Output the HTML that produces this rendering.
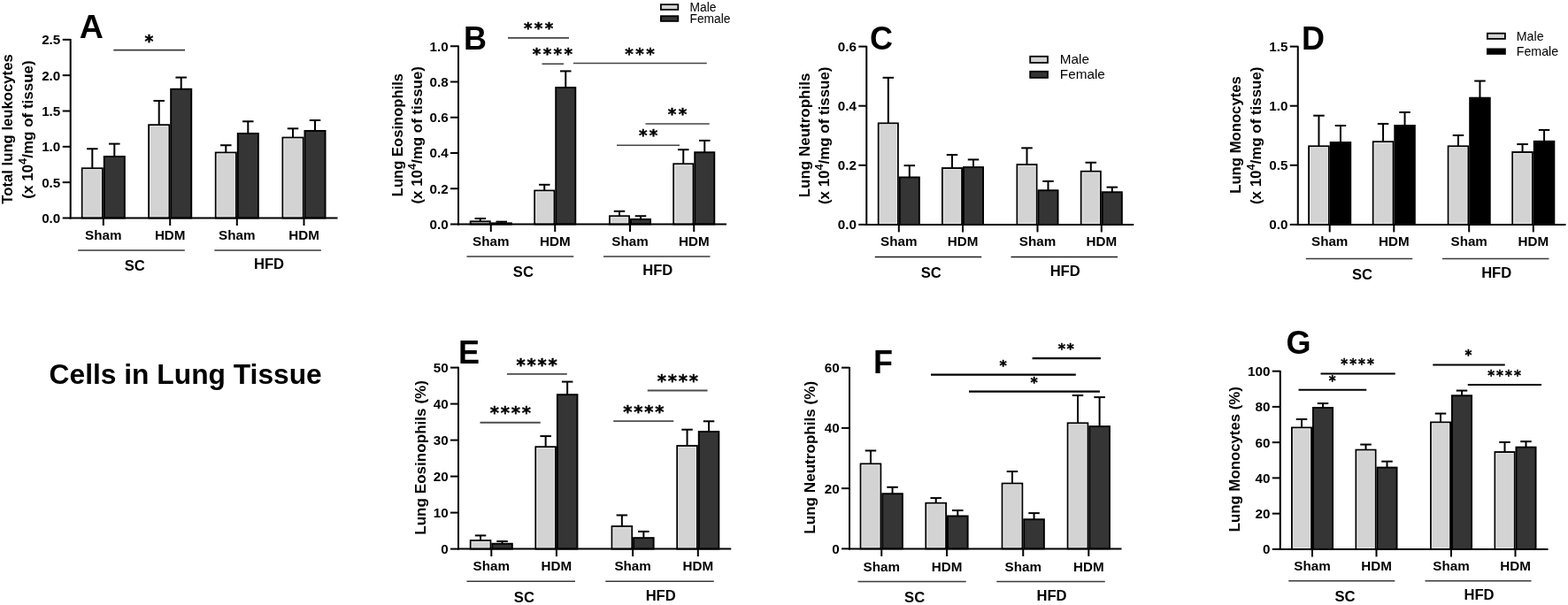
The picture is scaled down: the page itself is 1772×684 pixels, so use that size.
<!DOCTYPE html>
<html><head><meta charset="utf-8"><title>Cells in Lung Tissue</title>
<style>html,body{margin:0;padding:0;background:#fff;}svg{display:block;}text{font-family:"Liberation Sans", Arial, sans-serif;fill:#000;}</style>
</head><body>
<svg width="1772" height="684" viewBox="0 0 1772 684">
<line x1="104.30" y1="190.03" x2="104.30" y2="168.25" stroke="#000" stroke-width="2"/>
<line x1="98.05" y1="168.25" x2="110.55" y2="168.25" stroke="#000" stroke-width="2"/>
<rect x="92.75" y="190.28" width="23.10" height="56.22" fill="#d3d3d3" stroke="#000" stroke-width="1.9"/>
<rect x="94.20" y="191.73" width="20.20" height="53.27" fill="none" stroke="#e4e4e4" stroke-width="1"/>
<line x1="129.30" y1="176.72" x2="129.30" y2="162.60" stroke="#000" stroke-width="2"/>
<line x1="123.05" y1="162.60" x2="135.55" y2="162.60" stroke="#000" stroke-width="2"/>
<rect x="117.75" y="176.97" width="23.10" height="69.53" fill="#353535" stroke="#000" stroke-width="1.9"/>
<line x1="179.70" y1="140.98" x2="179.70" y2="113.96" stroke="#000" stroke-width="2"/>
<line x1="173.45" y1="113.96" x2="185.95" y2="113.96" stroke="#000" stroke-width="2"/>
<rect x="168.15" y="141.23" width="23.10" height="105.27" fill="#d3d3d3" stroke="#000" stroke-width="1.9"/>
<rect x="169.60" y="142.68" width="20.20" height="102.32" fill="none" stroke="#e4e4e4" stroke-width="1"/>
<line x1="204.70" y1="100.49" x2="204.70" y2="87.58" stroke="#000" stroke-width="2"/>
<line x1="198.45" y1="87.58" x2="210.95" y2="87.58" stroke="#000" stroke-width="2"/>
<rect x="193.15" y="100.74" width="23.10" height="145.76" fill="#353535" stroke="#000" stroke-width="1.9"/>
<line x1="255.30" y1="172.28" x2="255.30" y2="164.22" stroke="#000" stroke-width="2"/>
<line x1="249.05" y1="164.22" x2="261.55" y2="164.22" stroke="#000" stroke-width="2"/>
<rect x="243.75" y="172.53" width="23.10" height="73.97" fill="#d3d3d3" stroke="#000" stroke-width="1.9"/>
<rect x="245.20" y="173.98" width="20.20" height="71.02" fill="none" stroke="#e4e4e4" stroke-width="1"/>
<line x1="280.30" y1="150.66" x2="280.30" y2="137.27" stroke="#000" stroke-width="2"/>
<line x1="274.05" y1="137.27" x2="286.55" y2="137.27" stroke="#000" stroke-width="2"/>
<rect x="268.75" y="150.91" width="23.10" height="95.59" fill="#353535" stroke="#000" stroke-width="1.9"/>
<line x1="331.00" y1="155.34" x2="331.00" y2="145.34" stroke="#000" stroke-width="2"/>
<line x1="324.75" y1="145.34" x2="337.25" y2="145.34" stroke="#000" stroke-width="2"/>
<rect x="319.45" y="155.59" width="23.10" height="90.91" fill="#d3d3d3" stroke="#000" stroke-width="1.9"/>
<rect x="320.90" y="157.04" width="20.20" height="87.96" fill="none" stroke="#e4e4e4" stroke-width="1"/>
<line x1="356.00" y1="147.68" x2="356.00" y2="135.98" stroke="#000" stroke-width="2"/>
<line x1="349.75" y1="135.98" x2="362.25" y2="135.98" stroke="#000" stroke-width="2"/>
<rect x="344.45" y="147.93" width="23.10" height="98.57" fill="#353535" stroke="#000" stroke-width="1.9"/>
<line x1="79.70" y1="44.07" x2="79.70" y2="247.50" stroke="#000" stroke-width="2"/>
<line x1="78.70" y1="246.50" x2="381.50" y2="246.50" stroke="#000" stroke-width="2"/>
<line x1="70.70" y1="246.50" x2="79.70" y2="246.50" stroke="#000" stroke-width="2"/>
<text x="68.30" y="251.90" font-size="15.2" text-anchor="end" font-weight="bold">0.0</text>
<line x1="70.70" y1="206.16" x2="79.70" y2="206.16" stroke="#000" stroke-width="2"/>
<text x="68.30" y="211.56" font-size="15.2" text-anchor="end" font-weight="bold">0.5</text>
<line x1="70.70" y1="165.83" x2="79.70" y2="165.83" stroke="#000" stroke-width="2"/>
<text x="68.30" y="171.23" font-size="15.2" text-anchor="end" font-weight="bold">1.0</text>
<line x1="70.70" y1="125.50" x2="79.70" y2="125.50" stroke="#000" stroke-width="2"/>
<text x="68.30" y="130.90" font-size="15.2" text-anchor="end" font-weight="bold">1.5</text>
<line x1="70.70" y1="85.16" x2="79.70" y2="85.16" stroke="#000" stroke-width="2"/>
<text x="68.30" y="90.56" font-size="15.2" text-anchor="end" font-weight="bold">2.0</text>
<line x1="70.70" y1="44.82" x2="79.70" y2="44.82" stroke="#000" stroke-width="2"/>
<text x="68.30" y="50.22" font-size="15.2" text-anchor="end" font-weight="bold">2.5</text>
<line x1="116.80" y1="246.50" x2="116.80" y2="255.00" stroke="#000" stroke-width="2"/>
<line x1="192.20" y1="246.50" x2="192.20" y2="255.00" stroke="#000" stroke-width="2"/>
<line x1="267.80" y1="246.50" x2="267.80" y2="255.00" stroke="#000" stroke-width="2"/>
<line x1="343.50" y1="246.50" x2="343.50" y2="255.00" stroke="#000" stroke-width="2"/>
<text x="116.80" y="271.30" font-size="15.2" text-anchor="middle" font-weight="bold">Sham</text>
<text x="192.20" y="271.30" font-size="15.2" text-anchor="middle" font-weight="bold">HDM</text>
<text x="267.80" y="271.30" font-size="15.2" text-anchor="middle" font-weight="bold">Sham</text>
<text x="343.50" y="271.30" font-size="15.2" text-anchor="middle" font-weight="bold">HDM</text>
<line x1="88.20" y1="283.00" x2="208.80" y2="283.00" stroke="#3a3a3a" stroke-width="1.6"/>
<line x1="242.30" y1="283.00" x2="362.90" y2="283.00" stroke="#3a3a3a" stroke-width="1.6"/>
<text x="152.20" y="305.60" font-size="16.6" text-anchor="middle" font-weight="bold">SC</text>
<text x="304.00" y="304.00" font-size="16.6" text-anchor="middle" font-weight="bold">HFD</text>
<line x1="128.30" y1="56.70" x2="209.00" y2="56.70" stroke="#3a3a3a" stroke-width="1.8"/>
<text x="169.50" y="52.55" font-size="18.9" text-anchor="middle" font-weight="bold" stroke="#000" stroke-width="0.45" style="font-family:'DejaVu Sans',sans-serif;letter-spacing:2px">*</text>
<text x="103.30" y="42.90" font-size="37.5" text-anchor="middle" font-weight="bold">A</text>
<text transform="translate(14.30,146.00) rotate(-90)" font-size="16.7" text-anchor="middle" font-weight="bold">Total lung leukocytes</text>
<text transform="translate(36.50,146.50) rotate(-90)" font-size="17.0" text-anchor="middle" font-weight="bold">(x 10<tspan dy="-6.3" font-size="12.8">4</tspan><tspan dy="6.3">/mg of tissue)</tspan></text>
<line x1="542.75" y1="250.08" x2="542.75" y2="247.06" stroke="#000" stroke-width="2"/>
<line x1="536.50" y1="247.06" x2="549.00" y2="247.06" stroke="#000" stroke-width="2"/>
<rect x="531.70" y="250.33" width="22.10" height="3.17" fill="#d3d3d3" stroke="#000" stroke-width="1.9"/>
<line x1="566.75" y1="252.09" x2="566.75" y2="250.68" stroke="#000" stroke-width="2"/>
<line x1="560.50" y1="250.68" x2="573.00" y2="250.68" stroke="#000" stroke-width="2"/>
<rect x="555.70" y="252.34" width="22.10" height="1.16" fill="#353535" stroke="#000" stroke-width="1.9"/>
<line x1="615.25" y1="215.26" x2="615.25" y2="208.82" stroke="#000" stroke-width="2"/>
<line x1="609.00" y1="208.82" x2="621.50" y2="208.82" stroke="#000" stroke-width="2"/>
<rect x="604.20" y="215.51" width="22.10" height="37.99" fill="#d3d3d3" stroke="#000" stroke-width="1.9"/>
<rect x="605.65" y="216.96" width="19.20" height="35.04" fill="none" stroke="#e4e4e4" stroke-width="1"/>
<line x1="639.25" y1="98.74" x2="639.25" y2="80.43" stroke="#000" stroke-width="2"/>
<line x1="633.00" y1="80.43" x2="645.50" y2="80.43" stroke="#000" stroke-width="2"/>
<rect x="628.20" y="98.99" width="22.10" height="154.51" fill="#353535" stroke="#000" stroke-width="1.9"/>
<line x1="700.00" y1="244.04" x2="700.00" y2="238.81" stroke="#000" stroke-width="2"/>
<line x1="693.75" y1="238.81" x2="706.25" y2="238.81" stroke="#000" stroke-width="2"/>
<rect x="688.95" y="244.29" width="22.10" height="9.21" fill="#d3d3d3" stroke="#000" stroke-width="1.9"/>
<rect x="690.40" y="245.74" width="19.20" height="6.26" fill="none" stroke="#e4e4e4" stroke-width="1"/>
<line x1="724.00" y1="247.66" x2="724.00" y2="244.24" stroke="#000" stroke-width="2"/>
<line x1="717.75" y1="244.24" x2="730.25" y2="244.24" stroke="#000" stroke-width="2"/>
<rect x="712.95" y="247.91" width="22.10" height="5.59" fill="#353535" stroke="#000" stroke-width="1.9"/>
<line x1="772.25" y1="185.07" x2="772.25" y2="169.18" stroke="#000" stroke-width="2"/>
<line x1="766.00" y1="169.18" x2="778.50" y2="169.18" stroke="#000" stroke-width="2"/>
<rect x="761.20" y="185.32" width="22.10" height="68.17" fill="#d3d3d3" stroke="#000" stroke-width="1.9"/>
<rect x="762.65" y="186.78" width="19.20" height="65.22" fill="none" stroke="#e4e4e4" stroke-width="1"/>
<line x1="796.25" y1="171.99" x2="796.25" y2="158.91" stroke="#000" stroke-width="2"/>
<line x1="790.00" y1="158.91" x2="802.50" y2="158.91" stroke="#000" stroke-width="2"/>
<rect x="785.20" y="172.24" width="22.10" height="81.26" fill="#353535" stroke="#000" stroke-width="1.9"/>
<line x1="518.00" y1="51.50" x2="518.00" y2="254.50" stroke="#000" stroke-width="2"/>
<line x1="517.00" y1="253.50" x2="821.00" y2="253.50" stroke="#000" stroke-width="2"/>
<line x1="509.00" y1="253.50" x2="518.00" y2="253.50" stroke="#000" stroke-width="2"/>
<text x="506.60" y="258.90" font-size="15.2" text-anchor="end" font-weight="bold">0.0</text>
<line x1="509.00" y1="213.25" x2="518.00" y2="213.25" stroke="#000" stroke-width="2"/>
<text x="506.60" y="218.65" font-size="15.2" text-anchor="end" font-weight="bold">0.2</text>
<line x1="509.00" y1="173.00" x2="518.00" y2="173.00" stroke="#000" stroke-width="2"/>
<text x="506.60" y="178.40" font-size="15.2" text-anchor="end" font-weight="bold">0.4</text>
<line x1="509.00" y1="132.75" x2="518.00" y2="132.75" stroke="#000" stroke-width="2"/>
<text x="506.60" y="138.15" font-size="15.2" text-anchor="end" font-weight="bold">0.6</text>
<line x1="509.00" y1="92.50" x2="518.00" y2="92.50" stroke="#000" stroke-width="2"/>
<text x="506.60" y="97.90" font-size="15.2" text-anchor="end" font-weight="bold">0.8</text>
<line x1="509.00" y1="52.25" x2="518.00" y2="52.25" stroke="#000" stroke-width="2"/>
<text x="506.60" y="57.65" font-size="15.2" text-anchor="end" font-weight="bold">1.0</text>
<line x1="554.75" y1="253.50" x2="554.75" y2="262.00" stroke="#000" stroke-width="2"/>
<line x1="627.25" y1="253.50" x2="627.25" y2="262.00" stroke="#000" stroke-width="2"/>
<line x1="712.00" y1="253.50" x2="712.00" y2="262.00" stroke="#000" stroke-width="2"/>
<line x1="784.25" y1="253.50" x2="784.25" y2="262.00" stroke="#000" stroke-width="2"/>
<text x="554.75" y="278.00" font-size="15.2" text-anchor="middle" font-weight="bold">Sham</text>
<text x="627.25" y="278.00" font-size="15.2" text-anchor="middle" font-weight="bold">HDM</text>
<text x="712.00" y="278.00" font-size="15.2" text-anchor="middle" font-weight="bold">Sham</text>
<text x="784.25" y="278.00" font-size="15.2" text-anchor="middle" font-weight="bold">HDM</text>
<line x1="527.50" y1="290.00" x2="648.25" y2="290.00" stroke="#3a3a3a" stroke-width="1.6"/>
<line x1="682.00" y1="290.00" x2="802.50" y2="290.00" stroke="#3a3a3a" stroke-width="1.6"/>
<text x="591.35" y="313.00" font-size="16.6" text-anchor="middle" font-weight="bold">SC</text>
<text x="743.25" y="311.10" font-size="16.6" text-anchor="middle" font-weight="bold">HFD</text>
<line x1="574.00" y1="42.90" x2="643.00" y2="42.90" stroke="#444" stroke-width="1.6"/>
<text x="609.75" y="37.99" font-size="18.2" text-anchor="middle" font-weight="bold" stroke="#000" stroke-width="0.45" style="font-family:'DejaVu Sans',sans-serif;letter-spacing:2.4px">***</text>
<line x1="612.50" y1="72.25" x2="637.00" y2="72.25" stroke="#444" stroke-width="1.6"/>
<text x="625.60" y="67.34" font-size="18.2" text-anchor="middle" font-weight="bold" stroke="#000" stroke-width="0.45" style="font-family:'DejaVu Sans',sans-serif;letter-spacing:2.4px">****</text>
<line x1="648.00" y1="71.50" x2="798.75" y2="71.50" stroke="#444" stroke-width="1.6"/>
<text x="724.20" y="66.59" font-size="18.2" text-anchor="middle" font-weight="bold" stroke="#000" stroke-width="0.45" style="font-family:'DejaVu Sans',sans-serif;letter-spacing:2.4px">***</text>
<line x1="729.50" y1="140.00" x2="801.75" y2="140.00" stroke="#444" stroke-width="1.6"/>
<text x="766.70" y="135.09" font-size="18.2" text-anchor="middle" font-weight="bold" stroke="#000" stroke-width="0.45" style="font-family:'DejaVu Sans',sans-serif;letter-spacing:2.4px">**</text>
<line x1="697.00" y1="164.20" x2="768.00" y2="164.20" stroke="#444" stroke-width="1.6"/>
<text x="733.85" y="159.29" font-size="18.2" text-anchor="middle" font-weight="bold" stroke="#000" stroke-width="0.45" style="font-family:'DejaVu Sans',sans-serif;letter-spacing:2.4px">**</text>
<text x="537.00" y="55.50" font-size="36" text-anchor="middle" font-weight="bold">B</text>
<text transform="translate(454.80,152.60) rotate(-90)" font-size="16.6" text-anchor="middle" font-weight="bold">Lung Eosinophils</text>
<text transform="translate(476.50,152.80) rotate(-90)" font-size="16.9" text-anchor="middle" font-weight="bold">(x 10<tspan dy="-6.3" font-size="12.8">4</tspan><tspan dy="6.3">/mg of tissue)</tspan></text>
<rect x="746.90" y="5.10" width="19.40" height="5.80" fill="#d3d3d3" stroke="#000" stroke-width="1.8"/>
<rect x="746.90" y="18.20" width="19.40" height="5.70" fill="#353535" stroke="#000" stroke-width="1.8"/>
<text x="779.50" y="12.80" font-size="13.8" text-anchor="start" font-weight="normal">Male</text>
<text x="779.50" y="25.50" font-size="13.8" text-anchor="start" font-weight="normal">Female</text>
<line x1="1003.80" y1="139.16" x2="1003.80" y2="87.83" stroke="#000" stroke-width="2"/>
<line x1="997.55" y1="87.83" x2="1010.05" y2="87.83" stroke="#000" stroke-width="2"/>
<rect x="992.75" y="139.41" width="22.10" height="114.49" fill="#d3d3d3" stroke="#000" stroke-width="1.9"/>
<rect x="994.20" y="140.86" width="19.20" height="111.54" fill="none" stroke="#e4e4e4" stroke-width="1"/>
<line x1="1027.80" y1="200.22" x2="1027.80" y2="187.14" stroke="#000" stroke-width="2"/>
<line x1="1021.55" y1="187.14" x2="1034.05" y2="187.14" stroke="#000" stroke-width="2"/>
<rect x="1016.75" y="200.47" width="22.10" height="53.43" fill="#353535" stroke="#000" stroke-width="1.9"/>
<line x1="1076.00" y1="189.82" x2="1076.00" y2="175.06" stroke="#000" stroke-width="2"/>
<line x1="1069.75" y1="175.06" x2="1082.25" y2="175.06" stroke="#000" stroke-width="2"/>
<rect x="1064.95" y="190.07" width="22.10" height="63.83" fill="#d3d3d3" stroke="#000" stroke-width="1.9"/>
<rect x="1066.40" y="191.52" width="19.20" height="60.88" fill="none" stroke="#e4e4e4" stroke-width="1"/>
<line x1="1100.00" y1="188.81" x2="1100.00" y2="180.43" stroke="#000" stroke-width="2"/>
<line x1="1093.75" y1="180.43" x2="1106.25" y2="180.43" stroke="#000" stroke-width="2"/>
<rect x="1088.95" y="189.06" width="22.10" height="64.84" fill="#353535" stroke="#000" stroke-width="1.9"/>
<line x1="1160.50" y1="185.79" x2="1160.50" y2="167.34" stroke="#000" stroke-width="2"/>
<line x1="1154.25" y1="167.34" x2="1166.75" y2="167.34" stroke="#000" stroke-width="2"/>
<rect x="1149.45" y="186.04" width="22.10" height="67.86" fill="#d3d3d3" stroke="#000" stroke-width="1.9"/>
<rect x="1150.90" y="187.49" width="19.20" height="64.91" fill="none" stroke="#e4e4e4" stroke-width="1"/>
<line x1="1184.50" y1="214.98" x2="1184.50" y2="204.92" stroke="#000" stroke-width="2"/>
<line x1="1178.25" y1="204.92" x2="1190.75" y2="204.92" stroke="#000" stroke-width="2"/>
<rect x="1173.45" y="215.23" width="22.10" height="38.67" fill="#353535" stroke="#000" stroke-width="1.9"/>
<line x1="1232.80" y1="193.51" x2="1232.80" y2="183.78" stroke="#000" stroke-width="2"/>
<line x1="1226.55" y1="183.78" x2="1239.05" y2="183.78" stroke="#000" stroke-width="2"/>
<rect x="1221.75" y="193.76" width="22.10" height="60.14" fill="#d3d3d3" stroke="#000" stroke-width="1.9"/>
<rect x="1223.20" y="195.21" width="19.20" height="57.19" fill="none" stroke="#e4e4e4" stroke-width="1"/>
<line x1="1256.80" y1="217.00" x2="1256.80" y2="211.63" stroke="#000" stroke-width="2"/>
<line x1="1250.55" y1="211.63" x2="1263.05" y2="211.63" stroke="#000" stroke-width="2"/>
<rect x="1245.75" y="217.25" width="22.10" height="36.65" fill="#353535" stroke="#000" stroke-width="1.9"/>
<line x1="979.25" y1="51.85" x2="979.25" y2="254.90" stroke="#000" stroke-width="2"/>
<line x1="978.25" y1="253.90" x2="1281.25" y2="253.90" stroke="#000" stroke-width="2"/>
<line x1="970.25" y1="253.90" x2="979.25" y2="253.90" stroke="#000" stroke-width="2"/>
<text x="967.85" y="259.30" font-size="15.2" text-anchor="end" font-weight="bold">0.0</text>
<line x1="970.25" y1="186.80" x2="979.25" y2="186.80" stroke="#000" stroke-width="2"/>
<text x="967.85" y="192.20" font-size="15.2" text-anchor="end" font-weight="bold">0.2</text>
<line x1="970.25" y1="119.70" x2="979.25" y2="119.70" stroke="#000" stroke-width="2"/>
<text x="967.85" y="125.10" font-size="15.2" text-anchor="end" font-weight="bold">0.4</text>
<line x1="970.25" y1="52.60" x2="979.25" y2="52.60" stroke="#000" stroke-width="2"/>
<text x="967.85" y="58.00" font-size="15.2" text-anchor="end" font-weight="bold">0.6</text>
<line x1="1015.80" y1="253.90" x2="1015.80" y2="262.40" stroke="#000" stroke-width="2"/>
<line x1="1088.00" y1="253.90" x2="1088.00" y2="262.40" stroke="#000" stroke-width="2"/>
<line x1="1172.50" y1="253.90" x2="1172.50" y2="262.40" stroke="#000" stroke-width="2"/>
<line x1="1244.80" y1="253.90" x2="1244.80" y2="262.40" stroke="#000" stroke-width="2"/>
<text x="1015.80" y="278.00" font-size="15.2" text-anchor="middle" font-weight="bold">Sham</text>
<text x="1088.00" y="278.00" font-size="15.2" text-anchor="middle" font-weight="bold">HDM</text>
<text x="1172.50" y="278.00" font-size="15.2" text-anchor="middle" font-weight="bold">Sham</text>
<text x="1244.80" y="278.00" font-size="15.2" text-anchor="middle" font-weight="bold">HDM</text>
<line x1="988.75" y1="290.50" x2="1109.25" y2="290.50" stroke="#1e1e1e" stroke-width="1.7"/>
<line x1="1142.50" y1="290.50" x2="1263.00" y2="290.50" stroke="#1e1e1e" stroke-width="1.7"/>
<text x="1052.20" y="313.50" font-size="16.6" text-anchor="middle" font-weight="bold">SC</text>
<text x="1203.70" y="311.60" font-size="16.6" text-anchor="middle" font-weight="bold">HFD</text>
<text x="996.00" y="56.25" font-size="36" text-anchor="middle" font-weight="bold">C</text>
<text transform="translate(914.80,153.00) rotate(-90)" font-size="17.0" text-anchor="middle" font-weight="bold">Lung Neutrophils</text>
<text transform="translate(936.50,153.30) rotate(-90)" font-size="16.9" text-anchor="middle" font-weight="bold">(x 10<tspan dy="-6.3" font-size="12.8">4</tspan><tspan dy="6.3">/mg of tissue)</tspan></text>
<rect x="1164.20" y="63.80" width="19.80" height="7.10" fill="#d3d3d3" stroke="#000" stroke-width="1.8"/>
<rect x="1164.20" y="80.80" width="19.80" height="7.10" fill="#353535" stroke="#000" stroke-width="1.8"/>
<text x="1197.80" y="72.20" font-size="15.3" text-anchor="start" font-weight="normal">Male</text>
<text x="1197.80" y="89.30" font-size="15.3" text-anchor="start" font-weight="normal">Female</text>
<line x1="1490.45" y1="165.06" x2="1490.45" y2="130.70" stroke="#000" stroke-width="2"/>
<line x1="1484.20" y1="130.70" x2="1496.70" y2="130.70" stroke="#000" stroke-width="2"/>
<rect x="1479.15" y="165.31" width="22.60" height="88.59" fill="#d3d3d3" stroke="#000" stroke-width="1.9"/>
<rect x="1480.60" y="166.76" width="19.70" height="85.64" fill="none" stroke="#e4e4e4" stroke-width="1"/>
<line x1="1514.95" y1="160.77" x2="1514.95" y2="141.98" stroke="#000" stroke-width="2"/>
<line x1="1508.70" y1="141.98" x2="1521.20" y2="141.98" stroke="#000" stroke-width="2"/>
<rect x="1503.65" y="161.02" width="22.60" height="92.88" fill="#000" stroke="#000" stroke-width="1.9"/>
<line x1="1563.05" y1="159.96" x2="1563.05" y2="139.96" stroke="#000" stroke-width="2"/>
<line x1="1556.80" y1="139.96" x2="1569.30" y2="139.96" stroke="#000" stroke-width="2"/>
<rect x="1551.75" y="160.21" width="22.60" height="93.69" fill="#d3d3d3" stroke="#000" stroke-width="1.9"/>
<rect x="1553.20" y="161.66" width="19.70" height="90.74" fill="none" stroke="#e4e4e4" stroke-width="1"/>
<line x1="1587.55" y1="141.71" x2="1587.55" y2="126.95" stroke="#000" stroke-width="2"/>
<line x1="1581.30" y1="126.95" x2="1593.80" y2="126.95" stroke="#000" stroke-width="2"/>
<rect x="1576.25" y="141.96" width="22.60" height="111.94" fill="#000" stroke="#000" stroke-width="1.9"/>
<line x1="1647.95" y1="165.06" x2="1647.95" y2="152.98" stroke="#000" stroke-width="2"/>
<line x1="1641.70" y1="152.98" x2="1654.20" y2="152.98" stroke="#000" stroke-width="2"/>
<rect x="1636.65" y="165.31" width="22.60" height="88.59" fill="#d3d3d3" stroke="#000" stroke-width="1.9"/>
<rect x="1638.10" y="166.76" width="19.70" height="85.64" fill="none" stroke="#e4e4e4" stroke-width="1"/>
<line x1="1672.45" y1="110.44" x2="1672.45" y2="91.52" stroke="#000" stroke-width="2"/>
<line x1="1666.20" y1="91.52" x2="1678.70" y2="91.52" stroke="#000" stroke-width="2"/>
<rect x="1661.15" y="110.69" width="22.60" height="143.21" fill="#000" stroke="#000" stroke-width="1.9"/>
<line x1="1720.55" y1="171.77" x2="1720.55" y2="163.05" stroke="#000" stroke-width="2"/>
<line x1="1714.30" y1="163.05" x2="1726.80" y2="163.05" stroke="#000" stroke-width="2"/>
<rect x="1709.25" y="172.02" width="22.60" height="81.88" fill="#d3d3d3" stroke="#000" stroke-width="1.9"/>
<rect x="1710.70" y="173.47" width="19.70" height="78.93" fill="none" stroke="#e4e4e4" stroke-width="1"/>
<line x1="1745.05" y1="159.56" x2="1745.05" y2="146.94" stroke="#000" stroke-width="2"/>
<line x1="1738.80" y1="146.94" x2="1751.30" y2="146.94" stroke="#000" stroke-width="2"/>
<rect x="1733.75" y="159.81" width="22.60" height="94.09" fill="#000" stroke="#000" stroke-width="1.9"/>
<line x1="1466.75" y1="51.85" x2="1466.75" y2="254.90" stroke="#000" stroke-width="2"/>
<line x1="1465.75" y1="253.90" x2="1769.50" y2="253.90" stroke="#000" stroke-width="2"/>
<line x1="1457.75" y1="253.90" x2="1466.75" y2="253.90" stroke="#000" stroke-width="2"/>
<text x="1455.35" y="259.30" font-size="15.2" text-anchor="end" font-weight="bold">0.0</text>
<line x1="1457.75" y1="186.80" x2="1466.75" y2="186.80" stroke="#000" stroke-width="2"/>
<text x="1455.35" y="192.20" font-size="15.2" text-anchor="end" font-weight="bold">0.5</text>
<line x1="1457.75" y1="119.70" x2="1466.75" y2="119.70" stroke="#000" stroke-width="2"/>
<text x="1455.35" y="125.10" font-size="15.2" text-anchor="end" font-weight="bold">1.0</text>
<line x1="1457.75" y1="52.60" x2="1466.75" y2="52.60" stroke="#000" stroke-width="2"/>
<text x="1455.35" y="58.00" font-size="15.2" text-anchor="end" font-weight="bold">1.5</text>
<line x1="1502.70" y1="253.90" x2="1502.70" y2="262.40" stroke="#000" stroke-width="2"/>
<line x1="1575.30" y1="253.90" x2="1575.30" y2="262.40" stroke="#000" stroke-width="2"/>
<line x1="1660.20" y1="253.90" x2="1660.20" y2="262.40" stroke="#000" stroke-width="2"/>
<line x1="1732.80" y1="253.90" x2="1732.80" y2="262.40" stroke="#000" stroke-width="2"/>
<text x="1502.70" y="278.00" font-size="15.2" text-anchor="middle" font-weight="bold">Sham</text>
<text x="1575.30" y="278.00" font-size="15.2" text-anchor="middle" font-weight="bold">HDM</text>
<text x="1660.20" y="278.00" font-size="15.2" text-anchor="middle" font-weight="bold">Sham</text>
<text x="1732.80" y="278.00" font-size="15.2" text-anchor="middle" font-weight="bold">HDM</text>
<line x1="1475.75" y1="292.50" x2="1596.25" y2="292.50" stroke="#3a3a3a" stroke-width="1.6"/>
<line x1="1630.00" y1="292.50" x2="1750.50" y2="292.50" stroke="#3a3a3a" stroke-width="1.6"/>
<text x="1539.50" y="315.50" font-size="16.6" text-anchor="middle" font-weight="bold">SC</text>
<text x="1691.20" y="313.50" font-size="16.6" text-anchor="middle" font-weight="bold">HFD</text>
<text x="1484.00" y="56.00" font-size="36" text-anchor="middle" font-weight="bold">D</text>
<text transform="translate(1402.00,152.50) rotate(-90)" font-size="16.7" text-anchor="middle" font-weight="bold">Lung Monocytes</text>
<text transform="translate(1424.50,153.30) rotate(-90)" font-size="16.9" text-anchor="middle" font-weight="bold">(x 10<tspan dy="-6.3" font-size="12.8">4</tspan><tspan dy="6.3">/mg of tissue)</tspan></text>
<rect x="1680.90" y="37.70" width="20.00" height="6.20" fill="#d3d3d3" stroke="#000" stroke-width="1.8"/>
<rect x="1680.90" y="55.40" width="20.00" height="5.50" fill="#000" stroke="#000" stroke-width="1.8"/>
<text x="1713.80" y="45.50" font-size="14.2" text-anchor="start" font-weight="normal">Male</text>
<text x="1713.80" y="62.90" font-size="14.2" text-anchor="start" font-weight="normal">Female</text>
<line x1="543.05" y1="610.76" x2="543.05" y2="605.43" stroke="#000" stroke-width="2"/>
<line x1="536.80" y1="605.43" x2="549.30" y2="605.43" stroke="#000" stroke-width="2"/>
<rect x="531.75" y="611.01" width="22.60" height="9.59" fill="#d3d3d3" stroke="#000" stroke-width="1.9"/>
<rect x="533.20" y="612.46" width="19.70" height="6.64" fill="none" stroke="#e4e4e4" stroke-width="1"/>
<line x1="567.55" y1="614.45" x2="567.55" y2="611.99" stroke="#000" stroke-width="2"/>
<line x1="561.30" y1="611.99" x2="573.80" y2="611.99" stroke="#000" stroke-width="2"/>
<rect x="556.25" y="614.70" width="22.60" height="5.90" fill="#353535" stroke="#000" stroke-width="1.9"/>
<line x1="616.65" y1="504.98" x2="616.65" y2="493.09" stroke="#000" stroke-width="2"/>
<line x1="610.40" y1="493.09" x2="622.90" y2="493.09" stroke="#000" stroke-width="2"/>
<rect x="605.35" y="505.23" width="22.60" height="115.37" fill="#d3d3d3" stroke="#000" stroke-width="1.9"/>
<rect x="606.80" y="506.68" width="19.70" height="112.42" fill="none" stroke="#e4e4e4" stroke-width="1"/>
<line x1="641.15" y1="445.94" x2="641.15" y2="431.59" stroke="#000" stroke-width="2"/>
<line x1="634.90" y1="431.59" x2="647.40" y2="431.59" stroke="#000" stroke-width="2"/>
<rect x="629.85" y="446.19" width="22.60" height="174.41" fill="#353535" stroke="#000" stroke-width="1.9"/>
<line x1="702.85" y1="594.77" x2="702.85" y2="582.47" stroke="#000" stroke-width="2"/>
<line x1="696.60" y1="582.47" x2="709.10" y2="582.47" stroke="#000" stroke-width="2"/>
<rect x="691.55" y="595.02" width="22.60" height="25.58" fill="#d3d3d3" stroke="#000" stroke-width="1.9"/>
<rect x="693.00" y="596.47" width="19.70" height="22.63" fill="none" stroke="#e4e4e4" stroke-width="1"/>
<line x1="727.35" y1="607.89" x2="727.35" y2="600.92" stroke="#000" stroke-width="2"/>
<line x1="721.10" y1="600.92" x2="733.60" y2="600.92" stroke="#000" stroke-width="2"/>
<rect x="716.05" y="608.14" width="22.60" height="12.46" fill="#353535" stroke="#000" stroke-width="1.9"/>
<line x1="776.55" y1="503.75" x2="776.55" y2="485.71" stroke="#000" stroke-width="2"/>
<line x1="770.30" y1="485.71" x2="782.80" y2="485.71" stroke="#000" stroke-width="2"/>
<rect x="765.25" y="504.00" width="22.60" height="116.60" fill="#d3d3d3" stroke="#000" stroke-width="1.9"/>
<rect x="766.70" y="505.45" width="19.70" height="113.65" fill="none" stroke="#e4e4e4" stroke-width="1"/>
<line x1="801.05" y1="487.76" x2="801.05" y2="476.28" stroke="#000" stroke-width="2"/>
<line x1="794.80" y1="476.28" x2="807.30" y2="476.28" stroke="#000" stroke-width="2"/>
<rect x="789.75" y="488.01" width="22.60" height="132.59" fill="#353535" stroke="#000" stroke-width="1.9"/>
<line x1="518.00" y1="414.85" x2="518.00" y2="621.60" stroke="#000" stroke-width="2"/>
<line x1="517.00" y1="620.60" x2="826.25" y2="620.60" stroke="#000" stroke-width="2"/>
<line x1="509.00" y1="620.60" x2="518.00" y2="620.60" stroke="#000" stroke-width="2"/>
<text x="506.60" y="626.00" font-size="15.2" text-anchor="end" font-weight="bold">0</text>
<line x1="509.00" y1="579.60" x2="518.00" y2="579.60" stroke="#000" stroke-width="2"/>
<text x="506.60" y="585.00" font-size="15.2" text-anchor="end" font-weight="bold">10</text>
<line x1="509.00" y1="538.60" x2="518.00" y2="538.60" stroke="#000" stroke-width="2"/>
<text x="506.60" y="544.00" font-size="15.2" text-anchor="end" font-weight="bold">20</text>
<line x1="509.00" y1="497.60" x2="518.00" y2="497.60" stroke="#000" stroke-width="2"/>
<text x="506.60" y="503.00" font-size="15.2" text-anchor="end" font-weight="bold">30</text>
<line x1="509.00" y1="456.60" x2="518.00" y2="456.60" stroke="#000" stroke-width="2"/>
<text x="506.60" y="462.00" font-size="15.2" text-anchor="end" font-weight="bold">40</text>
<line x1="509.00" y1="415.60" x2="518.00" y2="415.60" stroke="#000" stroke-width="2"/>
<text x="506.60" y="421.00" font-size="15.2" text-anchor="end" font-weight="bold">50</text>
<line x1="555.30" y1="620.60" x2="555.30" y2="629.10" stroke="#000" stroke-width="2"/>
<line x1="628.90" y1="620.60" x2="628.90" y2="629.10" stroke="#000" stroke-width="2"/>
<line x1="715.10" y1="620.60" x2="715.10" y2="629.10" stroke="#000" stroke-width="2"/>
<line x1="788.80" y1="620.60" x2="788.80" y2="629.10" stroke="#000" stroke-width="2"/>
<text x="555.30" y="645.00" font-size="15.2" text-anchor="middle" font-weight="bold">Sham</text>
<text x="628.90" y="645.00" font-size="15.2" text-anchor="middle" font-weight="bold">HDM</text>
<text x="715.10" y="645.00" font-size="15.2" text-anchor="middle" font-weight="bold">Sham</text>
<text x="788.80" y="645.00" font-size="15.2" text-anchor="middle" font-weight="bold">HDM</text>
<line x1="527.50" y1="657.25" x2="650.00" y2="657.25" stroke="#3a3a3a" stroke-width="1.6"/>
<line x1="684.25" y1="657.25" x2="806.75" y2="657.25" stroke="#3a3a3a" stroke-width="1.6"/>
<text x="592.40" y="681.00" font-size="16.6" text-anchor="middle" font-weight="bold">SC</text>
<text x="746.70" y="679.00" font-size="16.6" text-anchor="middle" font-weight="bold">HFD</text>
<line x1="572.90" y1="422.90" x2="640.80" y2="422.90" stroke="#4d4d4d" stroke-width="1.8"/>
<text x="607.52" y="418.55" font-size="19.5" text-anchor="middle" font-weight="bold" stroke="#000" stroke-width="0.45" style="font-family:'DejaVu Sans',sans-serif;letter-spacing:1.85px">****</text>
<line x1="542.50" y1="477.75" x2="610.75" y2="477.75" stroke="#4d4d4d" stroke-width="1.8"/>
<text x="577.82" y="473.40" font-size="19.5" text-anchor="middle" font-weight="bold" stroke="#000" stroke-width="0.45" style="font-family:'DejaVu Sans',sans-serif;letter-spacing:1.85px">****</text>
<line x1="731.75" y1="441.50" x2="799.50" y2="441.50" stroke="#4d4d4d" stroke-width="1.8"/>
<text x="766.82" y="437.15" font-size="19.5" text-anchor="middle" font-weight="bold" stroke="#000" stroke-width="0.45" style="font-family:'DejaVu Sans',sans-serif;letter-spacing:1.85px">****</text>
<line x1="693.25" y1="476.10" x2="761.25" y2="476.10" stroke="#4d4d4d" stroke-width="1.8"/>
<text x="728.32" y="471.75" font-size="19.5" text-anchor="middle" font-weight="bold" stroke="#000" stroke-width="0.45" style="font-family:'DejaVu Sans',sans-serif;letter-spacing:1.85px">****</text>
<text x="530.00" y="411.25" font-size="36" text-anchor="middle" font-weight="bold">E</text>
<text transform="translate(481.30,517.40) rotate(-90)" font-size="17.1" text-anchor="middle" font-weight="bold">Lung Eosinophils (%)</text>
<line x1="983.95" y1="524.17" x2="983.95" y2="509.49" stroke="#000" stroke-width="2"/>
<line x1="977.70" y1="509.49" x2="990.20" y2="509.49" stroke="#000" stroke-width="2"/>
<rect x="972.60" y="524.42" width="22.70" height="95.98" fill="#d3d3d3" stroke="#000" stroke-width="1.9"/>
<rect x="974.05" y="525.87" width="19.80" height="93.03" fill="none" stroke="#e4e4e4" stroke-width="1"/>
<line x1="1008.55" y1="557.95" x2="1008.55" y2="550.78" stroke="#000" stroke-width="2"/>
<line x1="1002.30" y1="550.78" x2="1014.80" y2="550.78" stroke="#000" stroke-width="2"/>
<rect x="997.20" y="558.20" width="22.70" height="62.20" fill="#353535" stroke="#000" stroke-width="1.9"/>
<line x1="1057.70" y1="568.53" x2="1057.70" y2="563.07" stroke="#000" stroke-width="2"/>
<line x1="1051.45" y1="563.07" x2="1063.95" y2="563.07" stroke="#000" stroke-width="2"/>
<rect x="1046.35" y="568.78" width="22.70" height="51.62" fill="#d3d3d3" stroke="#000" stroke-width="1.9"/>
<rect x="1047.80" y="570.23" width="19.80" height="48.67" fill="none" stroke="#e4e4e4" stroke-width="1"/>
<line x1="1082.30" y1="583.20" x2="1082.30" y2="577.06" stroke="#000" stroke-width="2"/>
<line x1="1076.05" y1="577.06" x2="1088.55" y2="577.06" stroke="#000" stroke-width="2"/>
<rect x="1070.95" y="583.45" width="22.70" height="36.95" fill="#353535" stroke="#000" stroke-width="1.9"/>
<line x1="1143.95" y1="546.35" x2="1143.95" y2="533.04" stroke="#000" stroke-width="2"/>
<line x1="1137.70" y1="533.04" x2="1150.20" y2="533.04" stroke="#000" stroke-width="2"/>
<rect x="1132.60" y="546.60" width="22.70" height="73.80" fill="#d3d3d3" stroke="#000" stroke-width="1.9"/>
<rect x="1134.05" y="548.05" width="19.80" height="70.85" fill="none" stroke="#e4e4e4" stroke-width="1"/>
<line x1="1168.55" y1="586.96" x2="1168.55" y2="580.13" stroke="#000" stroke-width="2"/>
<line x1="1162.30" y1="580.13" x2="1174.80" y2="580.13" stroke="#000" stroke-width="2"/>
<rect x="1157.20" y="587.21" width="22.70" height="33.19" fill="#353535" stroke="#000" stroke-width="1.9"/>
<line x1="1218.00" y1="478.10" x2="1218.00" y2="447.04" stroke="#000" stroke-width="2"/>
<line x1="1211.75" y1="447.04" x2="1224.25" y2="447.04" stroke="#000" stroke-width="2"/>
<rect x="1206.65" y="478.35" width="22.70" height="142.05" fill="#d3d3d3" stroke="#000" stroke-width="1.9"/>
<rect x="1208.10" y="479.80" width="19.80" height="139.10" fill="none" stroke="#e4e4e4" stroke-width="1"/>
<line x1="1242.60" y1="481.85" x2="1242.60" y2="449.09" stroke="#000" stroke-width="2"/>
<line x1="1236.35" y1="449.09" x2="1248.85" y2="449.09" stroke="#000" stroke-width="2"/>
<rect x="1231.25" y="482.10" width="22.70" height="138.30" fill="#353535" stroke="#000" stroke-width="1.9"/>
<line x1="960.00" y1="414.90" x2="960.00" y2="621.40" stroke="#000" stroke-width="2"/>
<line x1="959.00" y1="620.40" x2="1267.50" y2="620.40" stroke="#000" stroke-width="2"/>
<line x1="951.00" y1="620.40" x2="960.00" y2="620.40" stroke="#000" stroke-width="2"/>
<text x="948.60" y="625.80" font-size="15.2" text-anchor="end" font-weight="bold">0</text>
<line x1="951.00" y1="552.15" x2="960.00" y2="552.15" stroke="#000" stroke-width="2"/>
<text x="948.60" y="557.55" font-size="15.2" text-anchor="end" font-weight="bold">20</text>
<line x1="951.00" y1="483.90" x2="960.00" y2="483.90" stroke="#000" stroke-width="2"/>
<text x="948.60" y="489.30" font-size="15.2" text-anchor="end" font-weight="bold">40</text>
<line x1="951.00" y1="415.65" x2="960.00" y2="415.65" stroke="#000" stroke-width="2"/>
<text x="948.60" y="421.05" font-size="15.2" text-anchor="end" font-weight="bold">60</text>
<line x1="996.25" y1="620.40" x2="996.25" y2="628.90" stroke="#000" stroke-width="2"/>
<line x1="1070.00" y1="620.40" x2="1070.00" y2="628.90" stroke="#000" stroke-width="2"/>
<line x1="1156.25" y1="620.40" x2="1156.25" y2="628.90" stroke="#000" stroke-width="2"/>
<line x1="1230.30" y1="620.40" x2="1230.30" y2="628.90" stroke="#000" stroke-width="2"/>
<text x="996.25" y="645.50" font-size="15.2" text-anchor="middle" font-weight="bold">Sham</text>
<text x="1070.00" y="645.50" font-size="15.2" text-anchor="middle" font-weight="bold">HDM</text>
<text x="1156.25" y="645.50" font-size="15.2" text-anchor="middle" font-weight="bold">Sham</text>
<text x="1230.30" y="645.50" font-size="15.2" text-anchor="middle" font-weight="bold">HDM</text>
<line x1="969.50" y1="657.50" x2="1091.75" y2="657.50" stroke="#3a3a3a" stroke-width="1.6"/>
<line x1="1126.25" y1="657.50" x2="1248.75" y2="657.50" stroke="#3a3a3a" stroke-width="1.6"/>
<text x="1033.60" y="681.00" font-size="16.6" text-anchor="middle" font-weight="bold">SC</text>
<text x="1188.50" y="679.00" font-size="16.6" text-anchor="middle" font-weight="bold">HFD</text>
<line x1="1166.60" y1="405.10" x2="1243.90" y2="405.10" stroke="#000" stroke-width="2.2"/>
<text x="1205.55" y="400.17" font-size="15.8" text-anchor="middle" font-weight="bold" stroke="#000" stroke-width="0.45" style="font-family:'DejaVu Sans',sans-serif;letter-spacing:1.5px">**</text>
<line x1="1052.00" y1="423.60" x2="1215.80" y2="423.60" stroke="#000" stroke-width="2.2"/>
<text x="1134.35" y="418.67" font-size="15.8" text-anchor="middle" font-weight="bold" stroke="#000" stroke-width="0.45" style="font-family:'DejaVu Sans',sans-serif;letter-spacing:1.5px">*</text>
<line x1="1095.00" y1="442.70" x2="1242.90" y2="442.70" stroke="#000" stroke-width="2.2"/>
<text x="1169.35" y="437.77" font-size="15.8" text-anchor="middle" font-weight="bold" stroke="#000" stroke-width="0.45" style="font-family:'DejaVu Sans',sans-serif;letter-spacing:1.5px">*</text>
<text x="998.00" y="422.00" font-size="36" text-anchor="middle" font-weight="bold">F</text>
<text transform="translate(921.30,517.30) rotate(-90)" font-size="17.1" text-anchor="middle" font-weight="bold">Lung Neutrophils (%)</text>
<line x1="1471.00" y1="483.24" x2="1471.00" y2="473.99" stroke="#000" stroke-width="2"/>
<line x1="1464.75" y1="473.99" x2="1477.25" y2="473.99" stroke="#000" stroke-width="2"/>
<rect x="1459.95" y="483.49" width="22.10" height="137.41" fill="#d3d3d3" stroke="#000" stroke-width="1.9"/>
<rect x="1461.40" y="484.94" width="19.20" height="134.46" fill="none" stroke="#e4e4e4" stroke-width="1"/>
<line x1="1495.00" y1="460.70" x2="1495.00" y2="456.08" stroke="#000" stroke-width="2"/>
<line x1="1488.75" y1="456.08" x2="1501.25" y2="456.08" stroke="#000" stroke-width="2"/>
<rect x="1483.95" y="460.95" width="22.10" height="159.94" fill="#353535" stroke="#000" stroke-width="1.9"/>
<line x1="1543.50" y1="508.40" x2="1543.50" y2="502.56" stroke="#000" stroke-width="2"/>
<line x1="1537.25" y1="502.56" x2="1549.75" y2="502.56" stroke="#000" stroke-width="2"/>
<rect x="1532.45" y="508.65" width="22.10" height="112.25" fill="#d3d3d3" stroke="#000" stroke-width="1.9"/>
<rect x="1533.90" y="510.10" width="19.20" height="109.30" fill="none" stroke="#e4e4e4" stroke-width="1"/>
<line x1="1567.50" y1="528.32" x2="1567.50" y2="521.68" stroke="#000" stroke-width="2"/>
<line x1="1561.25" y1="521.68" x2="1573.75" y2="521.68" stroke="#000" stroke-width="2"/>
<rect x="1556.45" y="528.57" width="22.10" height="92.33" fill="#353535" stroke="#000" stroke-width="1.9"/>
<line x1="1628.00" y1="477.21" x2="1628.00" y2="467.55" stroke="#000" stroke-width="2"/>
<line x1="1621.75" y1="467.55" x2="1634.25" y2="467.55" stroke="#000" stroke-width="2"/>
<rect x="1616.95" y="477.46" width="22.10" height="143.44" fill="#d3d3d3" stroke="#000" stroke-width="1.9"/>
<rect x="1618.40" y="478.91" width="19.20" height="140.49" fill="none" stroke="#e4e4e4" stroke-width="1"/>
<line x1="1652.00" y1="447.02" x2="1652.00" y2="441.59" stroke="#000" stroke-width="2"/>
<line x1="1645.75" y1="441.59" x2="1658.25" y2="441.59" stroke="#000" stroke-width="2"/>
<rect x="1640.95" y="447.27" width="22.10" height="173.63" fill="#353535" stroke="#000" stroke-width="1.9"/>
<line x1="1700.50" y1="510.82" x2="1700.50" y2="499.95" stroke="#000" stroke-width="2"/>
<line x1="1694.25" y1="499.95" x2="1706.75" y2="499.95" stroke="#000" stroke-width="2"/>
<rect x="1689.45" y="511.07" width="22.10" height="109.83" fill="#d3d3d3" stroke="#000" stroke-width="1.9"/>
<rect x="1690.90" y="512.52" width="19.20" height="106.88" fill="none" stroke="#e4e4e4" stroke-width="1"/>
<line x1="1724.50" y1="505.38" x2="1724.50" y2="499.14" stroke="#000" stroke-width="2"/>
<line x1="1718.25" y1="499.14" x2="1730.75" y2="499.14" stroke="#000" stroke-width="2"/>
<rect x="1713.45" y="505.63" width="22.10" height="115.27" fill="#353535" stroke="#000" stroke-width="1.9"/>
<line x1="1446.75" y1="418.90" x2="1446.75" y2="621.90" stroke="#000" stroke-width="2"/>
<line x1="1445.75" y1="620.90" x2="1749.50" y2="620.90" stroke="#000" stroke-width="2"/>
<line x1="1437.75" y1="620.90" x2="1446.75" y2="620.90" stroke="#000" stroke-width="2"/>
<text x="1435.35" y="626.30" font-size="15.2" text-anchor="end" font-weight="bold">0</text>
<line x1="1437.75" y1="580.65" x2="1446.75" y2="580.65" stroke="#000" stroke-width="2"/>
<text x="1435.35" y="586.05" font-size="15.2" text-anchor="end" font-weight="bold">20</text>
<line x1="1437.75" y1="540.40" x2="1446.75" y2="540.40" stroke="#000" stroke-width="2"/>
<text x="1435.35" y="545.80" font-size="15.2" text-anchor="end" font-weight="bold">40</text>
<line x1="1437.75" y1="500.15" x2="1446.75" y2="500.15" stroke="#000" stroke-width="2"/>
<text x="1435.35" y="505.55" font-size="15.2" text-anchor="end" font-weight="bold">60</text>
<line x1="1437.75" y1="459.90" x2="1446.75" y2="459.90" stroke="#000" stroke-width="2"/>
<text x="1435.35" y="465.30" font-size="15.2" text-anchor="end" font-weight="bold">80</text>
<line x1="1437.75" y1="419.65" x2="1446.75" y2="419.65" stroke="#000" stroke-width="2"/>
<text x="1435.35" y="425.05" font-size="15.2" text-anchor="end" font-weight="bold">100</text>
<line x1="1483.00" y1="620.90" x2="1483.00" y2="629.40" stroke="#000" stroke-width="2"/>
<line x1="1555.50" y1="620.90" x2="1555.50" y2="629.40" stroke="#000" stroke-width="2"/>
<line x1="1640.00" y1="620.90" x2="1640.00" y2="629.40" stroke="#000" stroke-width="2"/>
<line x1="1712.50" y1="620.90" x2="1712.50" y2="629.40" stroke="#000" stroke-width="2"/>
<text x="1483.00" y="645.00" font-size="15.2" text-anchor="middle" font-weight="bold">Sham</text>
<text x="1555.50" y="645.00" font-size="15.2" text-anchor="middle" font-weight="bold">HDM</text>
<text x="1640.00" y="645.00" font-size="15.2" text-anchor="middle" font-weight="bold">Sham</text>
<text x="1712.50" y="645.00" font-size="15.2" text-anchor="middle" font-weight="bold">HDM</text>
<line x1="1456.25" y1="656.75" x2="1576.25" y2="656.75" stroke="#3a3a3a" stroke-width="1.6"/>
<line x1="1610.50" y1="656.75" x2="1730.50" y2="656.75" stroke="#3a3a3a" stroke-width="1.6"/>
<text x="1520.00" y="680.20" font-size="16.6" text-anchor="middle" font-weight="bold">SC</text>
<text x="1671.50" y="678.20" font-size="16.6" text-anchor="middle" font-weight="bold">HFD</text>
<line x1="1492.50" y1="422.50" x2="1576.75" y2="422.50" stroke="#000" stroke-width="2.2"/>
<text x="1535.10" y="417.36" font-size="15.0" text-anchor="middle" font-weight="bold" stroke="#000" stroke-width="0.45" style="font-family:'DejaVu Sans',sans-serif;letter-spacing:2.1px">****</text>
<line x1="1467.50" y1="440.75" x2="1544.25" y2="440.75" stroke="#000" stroke-width="2.2"/>
<text x="1506.65" y="435.61" font-size="15.0" text-anchor="middle" font-weight="bold" stroke="#000" stroke-width="0.45" style="font-family:'DejaVu Sans',sans-serif;letter-spacing:2.1px">*</text>
<line x1="1619.25" y1="412.50" x2="1700.75" y2="412.50" stroke="#000" stroke-width="2.2"/>
<text x="1660.55" y="407.36" font-size="15.0" text-anchor="middle" font-weight="bold" stroke="#000" stroke-width="0.45" style="font-family:'DejaVu Sans',sans-serif;letter-spacing:2.1px">*</text>
<line x1="1658.75" y1="435.00" x2="1742.00" y2="435.00" stroke="#000" stroke-width="2.2"/>
<text x="1701.05" y="429.86" font-size="15.0" text-anchor="middle" font-weight="bold" stroke="#000" stroke-width="0.45" style="font-family:'DejaVu Sans',sans-serif;letter-spacing:2.1px">****</text>
<text x="1467.50" y="399.50" font-size="36" text-anchor="middle" font-weight="bold">G</text>
<text transform="translate(1401.00,519.20) rotate(-90)" font-size="16.8" text-anchor="middle" font-weight="bold">Lung Monocytes (%)</text>
<text x="55.60" y="434.00" font-size="31.75" text-anchor="start" font-weight="bold">Cells in Lung Tissue</text>
</svg>
</body></html>
